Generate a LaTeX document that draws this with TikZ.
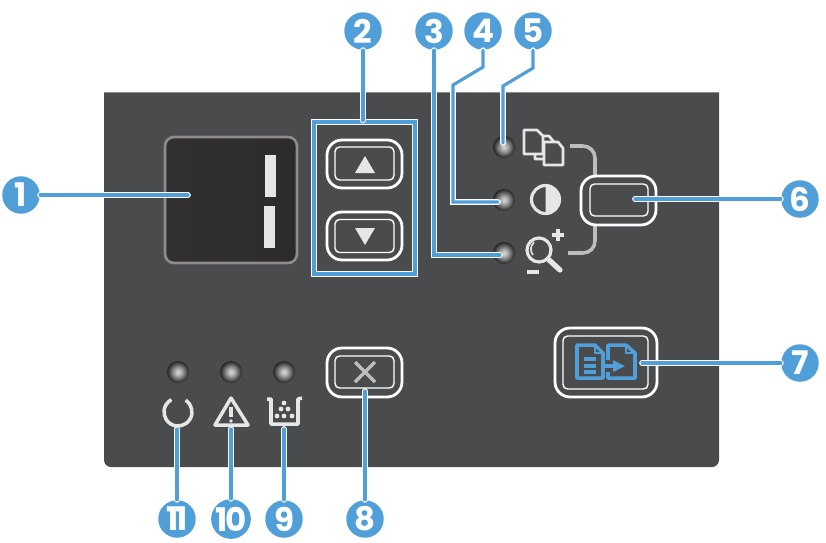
\documentclass[tikz,border=0pt]{standalone}
\usepackage{fontspec}
\newfontfamily\calloutfont{Poppins}
\usetikzlibrary{positioning}
\definecolor{panelgrey}{HTML}{4A4B4D}
\definecolor{calloutblue}{HTML}{519FD8}
\definecolor{iconwhite}{HTML}{E6E6E6}
\definecolor{displaydark}{HTML}{2D2B2C}
\definecolor{rimgrey}{HTML}{8C8C8C}
\definecolor{dimgrey}{HTML}{BDBDBD}
\pgfdeclareradialshading{ledball}{\pgfpointorigin}{
    color(0bp)=(white!85!black); color(6bp)=(white!72!black); color(13bp)=(white!52!black); color(19bp)=(black!68); color(25bp)=(black!86); color(50bp)=(black!86)}

\begin{document}
\begin{tikzpicture}[
    x=0.02cm, y=-0.02cm,
    callout/.style={circle, fill=calloutblue, minimum size=0.75cm, inner sep=0pt, text=white, font=\calloutfont\fontsize{18.5}{18.5}\selectfont\bfseries},
    leader/.style={draw=calloutblue, line width=1.8pt, line cap=round, line join=miter, preaction={draw=white, line width=3.2pt, line cap=round}},
    btnouter/.style={draw=white, line width=1.6pt, rounded corners=0.3cm, inner sep=0pt},
    btninner/.style={draw=white, line width=0.8pt, rounded corners=0.09cm, inner sep=0pt},
    led/.style={circle, minimum size=0.44cm, inner sep=0pt, shading=ledball},
    icon/.style={draw=iconwhite, line width=1.8pt, line join=round},
    scanicon/.style={draw=calloutblue, line width=2pt, line join=round},
]
\useasboundingbox (0,0) rectangle (826,542);

% Panel
\fill[panelgrey, rounded corners=0.12cm] (104,92) [sharp corners] -- (719,92) [rounded corners=0.14cm] -- (719,467) -- (104,467) [sharp corners] -- (104,92) -- cycle;
\draw[black!45, thin] (104,92) -- (719,92);

% Display
\node[draw=rimgrey, line width=1.5pt, rounded corners=0.18cm, minimum width=2.64cm, minimum height=2.52cm, inner sep=0pt, left color=displaydark!85!panelgrey, right color=displaydark] (display) at (231,200) {};
\fill[iconwhite] (265,155) rectangle (276,197);
\fill[iconwhite] (264,206) rectangle (275,248);

% Arrow buttons
\node[draw=calloutblue, line width=1.8pt, minimum width=2.02cm, minimum height=3.04cm, inner sep=0pt, preaction={draw=white, line width=3.2pt}] (arrowbox) at (364.5,198) {};
\node[btnouter, minimum width=1.5cm, minimum height=0.96cm] (upbtn) at (364.5,164) {};
\node[btninner, minimum width=1.18cm, minimum height=0.66cm] (upinner) at (364.5,163.5) {};
\fill[iconwhite] (365,156) -- (375,173) -- (355,173) -- cycle;
\node[btnouter, minimum width=1.5cm, minimum height=0.96cm] (downbtn) at (364.5,236) {};
\node[btninner, minimum width=1.18cm, minimum height=0.66cm] (downinner) at (364.5,236) {};
\fill[iconwhite] (355,228) -- (375,228) -- (365,245) -- cycle;

% LEDs, upper group
\node[led] (ledcopies) at (504,147) {};
\node[led] (leddark) at (504,200) {};
\node[led] (ledzoom) at (504,253) {};

% Copies icon
\draw[icon, line width=1.5pt, fill=panelgrey] (535,136) -- (549,136) -- (554,142) -- (554,159) -- (535,159) -- cycle;
\draw[icon, line width=1.5pt, fill=panelgrey] (544,142) -- (558,142) -- (563,148) -- (563,165) -- (544,165) -- cycle;
\draw[icon, line width=1.5pt, fill=panelgrey] (524,130) -- (537,130) -- (543,136) -- (543,154) -- (524,154) -- cycle;

% Contrast icon
\draw[icon] (545.5,199.5) circle (14);
\fill[iconwhite] (545.5,185.5) arc (-90:90:14) -- cycle;

% Zoom icon
\draw[icon] (539,250) circle (12);
\draw[icon, line width=0.9pt] (533,255) arc (140:230:9);
\draw[icon, line width=3pt, line cap=round] (548,259) -- (560,270);
\draw[icon, line width=1.8pt] (552,235) -- (564,235) (558,229) -- (558,241);
\draw[icon, line width=1.8pt] (527,272) -- (539,272);

% Bracket
\draw[dimgrey, line width=2pt, rounded corners=0.24cm] (570,146) -- (595,146) -- (595,176);
\draw[dimgrey, line width=2pt, rounded corners=0.24cm] (595,225) -- (595,253) -- (568,253);

% Mode button
\node[btnouter, minimum width=1.5cm, minimum height=0.98cm] (modebtn) at (618.5,200.5) {};
\node[btninner, minimum width=1.16cm, minimum height=0.64cm] (modeinner) at (619,200) {};

% Scan button
\node[btnouter, minimum width=2.04cm, minimum height=1.38cm] (scanbtn) at (606,362.5) {};
\node[btninner, minimum width=1.7cm, minimum height=1.06cm] (scaninner) at (605.5,362.5) {};
\draw[scanicon] (577,345) -- (595,345) -- (603,353) -- (603,378) -- (577,378) -- cycle;
\draw[scanicon, line width=1pt] (595,345) -- (595,353) -- (603,353);
\foreach \y in {359,366,372} {
    \draw[scanicon] (584,\y) -- (596,\y);
}
\draw[scanicon] (608,360) -- (608,345) -- (626,345) -- (635,353) -- (635,378) -- (608,378) -- (608,372);
\draw[scanicon, line width=1pt] (626,345) -- (626,353) -- (635,353);
\draw[scanicon] (603,366) -- (615,366);
\fill[calloutblue] (625,366) -- (613,360) -- (613,372) -- cycle;

% Cancel button
\node[btnouter, minimum width=1.5cm, minimum height=0.98cm] (cancelbtn) at (364.5,372.5) {};
\node[btninner, minimum width=1.18cm, minimum height=0.64cm] (cancelinner) at (364.5,372) {};
\draw[dimgrey, line width=2pt] (355,362) -- (375,382) (375,362) -- (355,382);

% LEDs, lower group
\node[led] (ledready) at (178,372) {};
\node[led] (ledattn) at (231,372) {};
\node[led] (ledtoner) at (284,372) {};

% Ready icon
\draw[icon, line width=2pt] (178,412) ++(-57:14) arc (-57:242:14);

% Attention icon
\draw[icon, line width=2pt] (231,398) -- (248,425) -- (215,425) -- cycle;
\draw[icon, line width=2pt] (231,407) -- (231,417);
\fill[iconwhite] (231,421) circle (1.8);

% Toner icon
\draw[icon, line width=2pt] (267,399) -- (271,399) -- (271,424) -- (298,424) -- (298,399) -- (302,398);
\foreach \x/\y in {284/403, 281/409, 288/409, 277/416, 284/416, 292/416} {
    \fill[iconwhite] (\x,\y) circle (2.4);
}

% Leader ends
\coordinate (end1) at (188,195);
\coordinate (end3) at (500,255);
\coordinate (bend4a) at (483,67);
\coordinate (bend4b) at (453,85);
\coordinate (end4) at (498,202);
\coordinate (bend5a) at (533,68);
\coordinate (bend5b) at (503,86);
\coordinate (end5) at (503,143);
\coordinate (end6) at (635,199);
\coordinate (end7) at (642,363);
\coordinate (end8) at (365,391);
\coordinate (end9) at (284,429);
\coordinate (end10) at (231,429);
\coordinate (end11) at (177,429);

% Callouts
\node[callout] (lab1) at (21,195) {1};
\node[callout] (lab2) at (363,31) {2};
\node[callout] (lab3) at (434,31) {3};
\node[callout] (lab4) at (483,31) {4};
\node[callout] (lab5) at (533,31) {5};
\node[callout] (lab6) at (800,199) {6};
\node[callout] (lab7) at (800,363) {7};
\node[callout] (lab8) at (365,519) {8};
\node[callout] (lab9) at (284,519) {9};
\node[callout] (lab10) at (231,519) {1\kern-1pt0};
\node[callout] (lab11) at (177,519) {1\kern-1.5pt1};

% Leaders
\draw[leader] (lab1) -- (end1);
\draw[leader] (lab2) -- (arrowbox.north -| lab2);
\draw[leader] (lab3) |- (end3);
\draw[leader] (lab4) -- (bend4a) -- (bend4b) |- (end4);
\draw[leader] (lab5) -- (bend5a) -- (bend5b) -- (end5);
\draw[leader] (lab6) -- (end6);
\draw[leader] (lab7) -- (end7);
\draw[leader] (lab8) -- (end8);
\draw[leader] (lab9) -- (end9);
\draw[leader] (lab10) -- (end10);
\draw[leader] (lab11) -- (end11);

\end{tikzpicture}
\end{document}
